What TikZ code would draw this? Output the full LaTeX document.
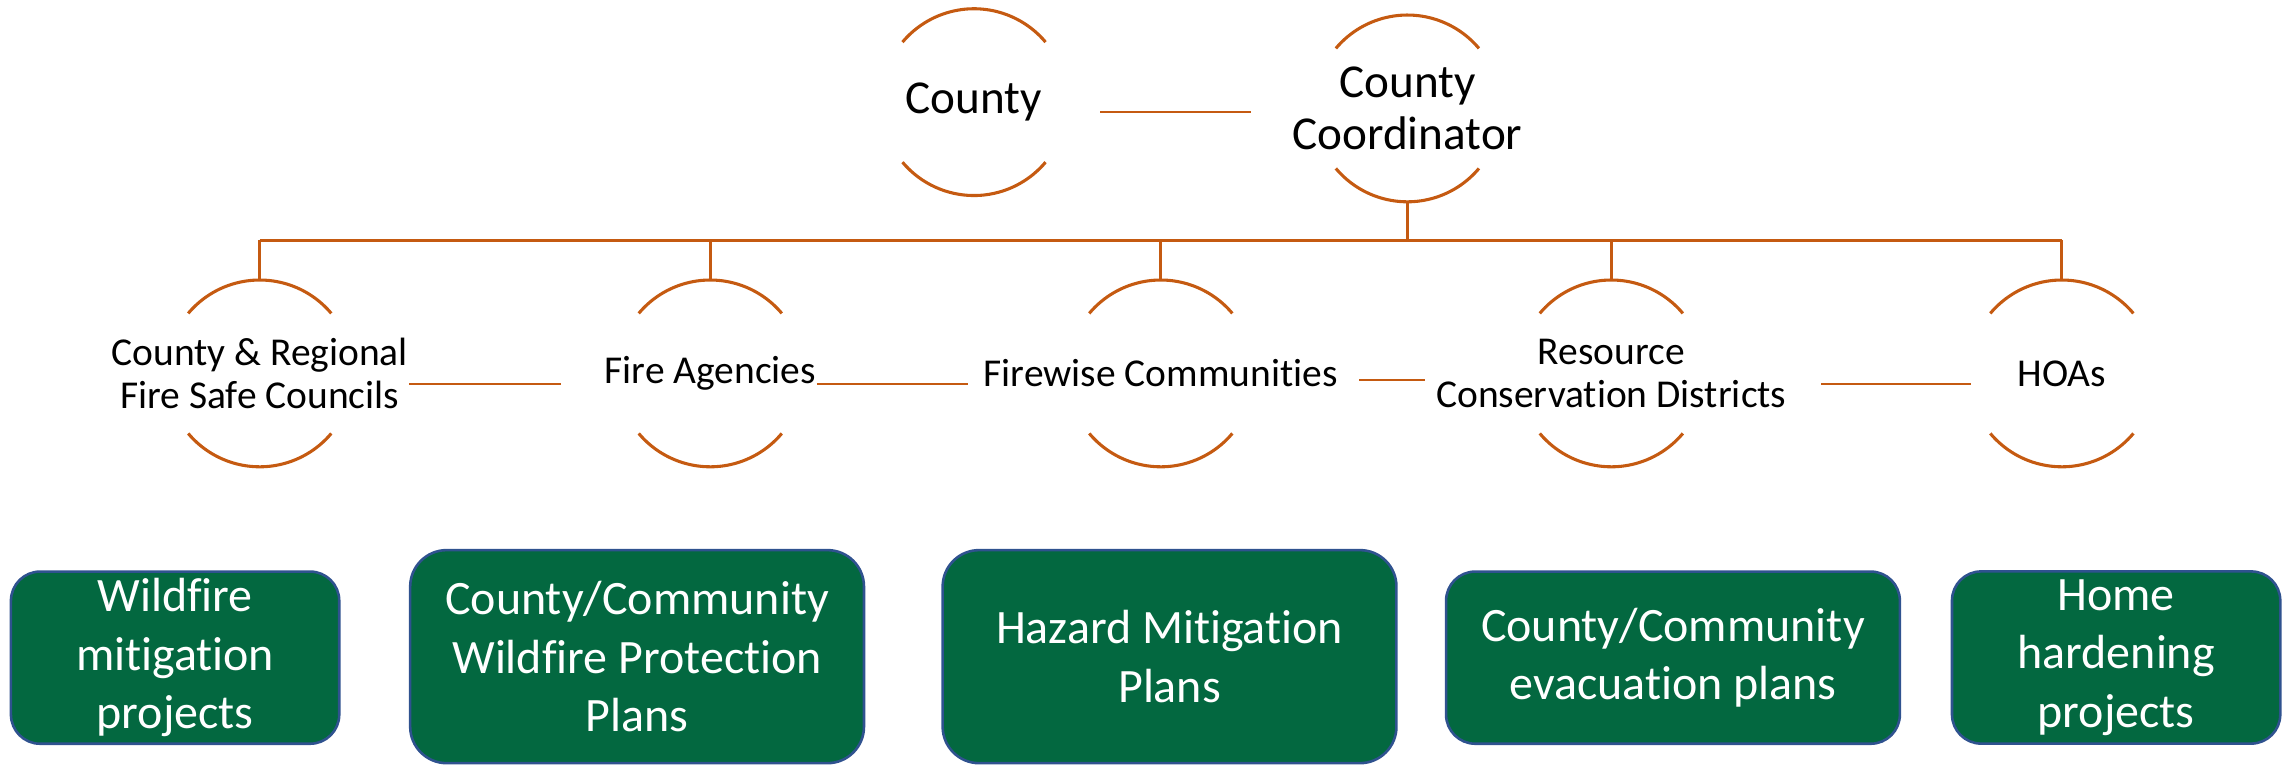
\documentclass[tikz,border=0pt]{standalone}
\usepackage{fontspec}
\setmainfont{Carlito}[Ligatures={NoCommon}]
\usetikzlibrary{positioning,calc}
\definecolor{rust}{RGB}{197,90,17}
\definecolor{fsgreen}{RGB}{3,104,64}
\definecolor{fsedge}{RGB}{47,82,143}
\tikzset{
  ring/.style   = { circle, inner sep=0pt, outer sep=0pt, minimum size=1.28cm },
  arcln/.style  = { draw=rust, line width=0.6pt },
  conn/.style   = { draw=rust, line width=0.35pt },
  busln/.style  = { draw=rust, line width=0.6pt },
  toptxt/.style = { align=center, inner sep=0pt, font=\fontsize{9.2}{10.1}\selectfont },
  midtxt/.style = { align=center, inner sep=0pt, font=\fontsize{7.7}{8.3}\selectfont },
  planbase/.style = { draw=fsedge, line width=0.5pt, fill=fsgreen, text=white,
    align=center, inner sep=0pt, rounded corners=#1,
    font=\fontsize{9.35}{11.4}\selectfont },
  projbox/.style = { planbase=0.2cm, minimum width=2.25cm, minimum height=1.18cm },
  planbox/.style = { planbase=0.25cm, minimum width=3.11cm, minimum height=1.46cm },
  evacbox/.style = { planbase=0.2cm, minimum width=3.11cm, minimum height=1.18cm }
}
\begin{document}
\begin{tikzpicture}
  \useasboundingbox (0,0) rectangle (15.68,-5.243);
  % county and coordinator
  \node[ring] (rc) at (6.675,-0.700) {};
  \node[ring] (rk) at (9.645,-0.743) {};
  \node[toptxt] (tc) at (rc) {County};
  \node[toptxt] (tk) at (rk) {County\\Coordinator};
  % partners
  \node[ring] (r1) at (1.780,-2.559) {};
  \node[ring] (r2) at (4.8675,-2.559) {};
  \node[ring] (r3) at (7.955,-2.559) {};
  \node[ring] (r4) at (11.0425,-2.559) {};
  \node[ring] (r5) at (14.13,-2.559) {};
  \node[midtxt] (t1) at (r1) {County \& Regional\\Fire Safe Councils};
  \node[midtxt] (t2) at (r2) {Fire Agencies};
  \node[midtxt] (t3) at (r3) {Firewise Communities};
  \node[midtxt] (t4) at (r4) {Resource\\Conservation Districts};
  \node[midtxt] (t5) at (r5) {HOAs};
  \foreach \r in {rc,rk,r1,r2,r3,r4,r5}{
    \draw[arcln] (\r.40) arc[start angle=40,end angle=140,radius=0.64cm];
    \draw[arcln] (\r.220) arc[start angle=220,end angle=320,radius=0.64cm];
  }
  % bus
  \coordinate (bus) at (0,-1.645);
  \draw[busln] (rk.south) -- (rk.south |- bus);
  \draw[busln] (r1.north |- bus) -- (r5.north |- bus);
  \foreach \r in {r1,r2,r3,r4,r5}
    \draw[busln] (\r.north |- bus) -- (\r.north);
  % side links
  \draw[conn, shorten <=0.39cm, shorten >=0.28cm] ([yshift=-0.07cm]tc.east) -- ([yshift=-0.07cm]tk.west |- tc.east);
  \draw[conn, shorten >=0.29cm] ([yshift=-0.07cm]t1.east) -- ([yshift=-0.07cm]t2.west);
  \draw[conn, shorten >=0.10cm] ([yshift=-0.07cm]t2.east) -- ([yshift=-0.07cm]t3.west);
  \draw[conn, shorten <=0.14cm, shorten >=0.07cm] ([yshift=-0.045cm]t3.east) -- ([yshift=-0.045cm]t4.west);
  \draw[conn, shorten <=0.23cm, shorten >=0.315cm] ([yshift=-0.07cm]t4.east) -- ([yshift=-0.07cm]t5.west);
  % plans
  \node[projbox] (b1) at (1.200,-4.507) {Wildfire\\mitigation\\projects};
  \node[planbox] (b2) at (4.366,-4.500) {County/Community\\Wildfire Protection\\Plans};
  \node[planbox] (b3) at (8.015,-4.500) {Hazard Mitigation\\Plans};
  \node[evacbox] (b4) at (11.465,-4.507) {County/Community\\evacuation plans};
  \node[projbox] (b5) at (14.502,-4.506) {Home\\hardening\\projects};
\end{tikzpicture}
\end{document}
